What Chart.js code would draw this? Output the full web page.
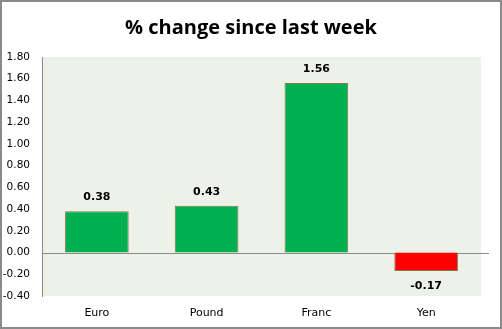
<!DOCTYPE html>
<html>
<head>
<meta charset="utf-8">
<title>% change since last week</title>
<script src="https://cdn.jsdelivr.net/npm/chart.js@4.4.1/dist/chart.umd.min.js"></script>
<style>
    html, body { margin: 0; padding: 0; background: #ffffff; }
    #wrap { width: 502px; height: 329px; position: relative; }
</style>
</head>
<body>
<div id="wrap"><canvas id="changeChart"></canvas></div>
<script>
// Weekly currency moves (%)
const currencies = ['Euro', 'Pound', 'Franc', 'Yen'];
const changes = [0.38, 0.43, 1.56, -0.17];
const yTicks = [-0.40, -0.20, 0.00, 0.20, 0.40, 0.60, 0.80, 1.00, 1.20, 1.40, 1.60, 1.80];

const GREEN = '#00B050';
const RED = '#FF0000';

// Plot background, zero line and outer frame
const frame = {
    id: 'frame',
    beforeDraw(chart) {
        const { ctx, chartArea: a } = chart;
        ctx.save();
        ctx.fillStyle = '#EEF1E7';
        ctx.fillRect(a.left, a.top, a.right - a.left, a.bottom - a.top);
        ctx.restore();
    },
    beforeDatasetsDraw(chart) {
        const { ctx, chartArea: a } = chart;
        const y0 = Math.round(chart.scales.y.getPixelForValue(0)) + 0.5;
        ctx.save();
        ctx.strokeStyle = '#8a8a8a';
        ctx.lineWidth = 1;
        ctx.beginPath();
        ctx.moveTo(a.left, y0);
        ctx.lineTo(a.right + 8, y0);
        ctx.stroke();
        ctx.restore();
    },
    afterDraw(chart) {
        const ctx = chart.ctx;
        ctx.save();
        ctx.strokeStyle = '#8a8a8a';
        ctx.lineWidth = 2;
        ctx.strokeRect(1, 1, chart.width - 2, chart.height - 2);
        ctx.restore();
    }
};

// Bold value labels above (or below) each bar
const barValues = {
    id: 'barValues',
    afterDatasetsDraw(chart) {
        const ctx = chart.ctx;
        const meta = chart.getDatasetMeta(0);
        ctx.save();
        ctx.font = 'bold 11px "DejaVu Sans", sans-serif';
        ctx.fillStyle = '#000000';
        ctx.textAlign = 'center';
        ctx.textBaseline = 'middle';
        meta.data.forEach((bar, i) => {
            const v = chart.data.datasets[0].data[i];
            const offset = v >= 0 ? -14 : 15;
            ctx.fillText(v.toFixed(2), bar.x, bar.y + offset);
        });
        ctx.restore();
    }
};

new Chart(document.getElementById('changeChart'), {
    type: 'bar',
    data: {
        labels: currencies,
        datasets: [{
            data: changes,
            backgroundColor: changes.map(v => v < 0 ? RED : GREEN),
            borderColor: '#7d7a55',
            borderWidth: 1,
            categoryPercentage: 1,
            barPercentage: 0.58
        }]
    },
    options: {
        responsive: true,
        maintainAspectRatio: false,
        animation: false,
        layout: { padding: 0 },
        plugins: {
            legend: { display: false },
            tooltip: { enabled: false },
            title: {
                display: true,
                text: '% change since last week',
                color: '#000000',
                font: { family: '"Open Sans", sans-serif', size: 20, weight: 'bold' },
                padding: { top: 16, bottom: 17 }
            }
        },
        scales: {
            x: {
                grid: { display: false, drawTicks: false },
                border: { display: false },
                afterFit(scale) { scale.height = 33; },
                ticks: {
                    color: '#000000',
                    padding: 11,
                    font: { family: '"DejaVu Sans", sans-serif', size: 11 }
                }
            },
            y: {
                min: yTicks[0],
                max: yTicks[yTicks.length - 1],
                afterBuildTicks(scale) {
                    scale.ticks = yTicks.map(v => ({ value: v }));
                },
                afterFit(scale) { scale.width = 42; },
                grid: { display: false, drawTicks: false },
                border: { display: true, color: '#8a8a8a', width: 1 },
                ticks: {
                    color: '#000000',
                    padding: 12,
                    font: { family: '"DejaVu Sans", sans-serif', size: 10.5 },
                    callback: v => Number(v).toFixed(2)
                }
            },
            // empty right margin so the title stays centred on the full width
            yRight: {
                position: 'right',
                afterFit(scale) { scale.width = 21; },
                grid: { display: false, drawTicks: false },
                border: { display: false },
                ticks: { display: false }
            }
        }
    },
    plugins: [frame, barValues]
});
</script>
</body>
</html>
